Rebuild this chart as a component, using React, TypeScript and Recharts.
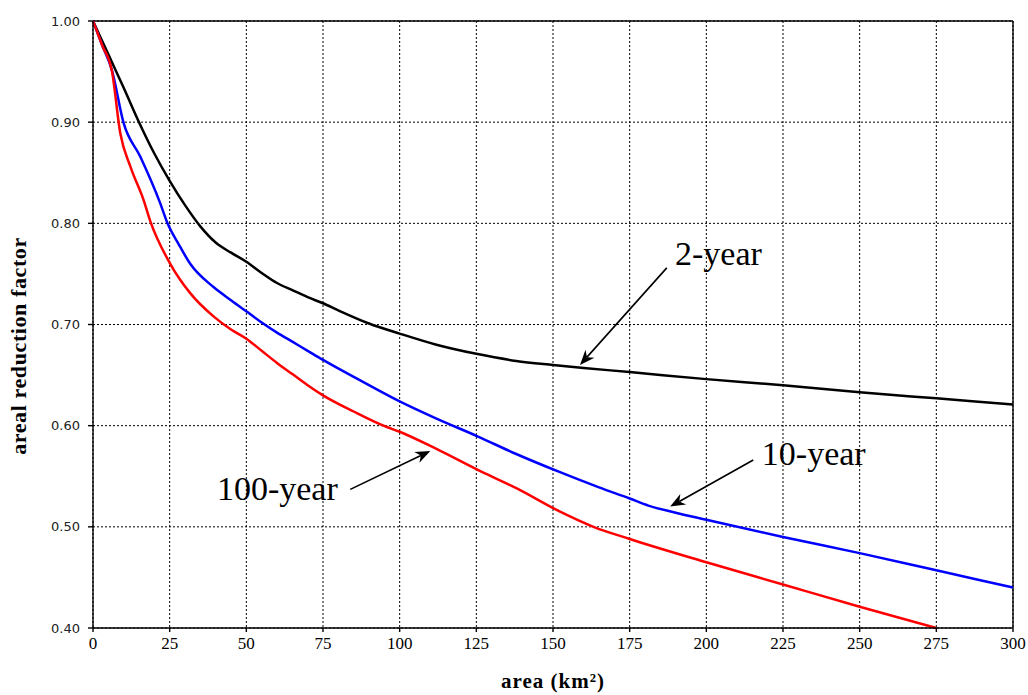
import {
  LineChart,
  Line,
  XAxis,
  YAxis,
  CartesianGrid,
  ReferenceLine,
  ReferenceDot,
} from "recharts";

// axis ticks
const areaTicks = [0, 25, 50, 75, 100, 125, 150, 175, 200, 225, 250, 275, 300];
const arfTicks = [0.4, 0.5, 0.6, 0.7, 0.8, 0.9, 1.0];

// 2-year curve
const area2 = [0, 5, 10, 15, 20, 25, 30, 35, 40, 45, 50, 55, 60, 65, 70, 75, 80, 90, 100, 112, 125, 138, 150, 160, 175, 200, 225, 250, 275, 300];
const arf2 = [1.0, 0.967, 0.934, 0.9, 0.869, 0.842, 0.818, 0.797, 0.781, 0.771, 0.762, 0.751, 0.741, 0.734, 0.727, 0.721, 0.714, 0.701, 0.691, 0.68, 0.671, 0.664, 0.66, 0.657, 0.653, 0.646, 0.64, 0.633, 0.627, 0.621];

// 10-year curve
const area10 = [0, 3, 6.2, 10, 15.4, 21.9, 24.3, 28, 31.7, 39.3, 45, 50, 55, 60, 65, 70, 75, 87, 100, 112, 125, 138, 152.3, 165, 175, 181.1, 190, 200, 225, 250, 275, 300];
const arf10 = [1.0, 0.976, 0.951, 0.899, 0.866, 0.82, 0.8, 0.779, 0.76, 0.737, 0.724, 0.713, 0.702, 0.692, 0.683, 0.674, 0.665, 0.645, 0.624, 0.607, 0.59, 0.572, 0.554, 0.539, 0.528, 0.521, 0.514, 0.507, 0.49, 0.474, 0.457, 0.44];

// 100-year curve
const area100 = [0, 3, 6.2, 8.9, 12.2, 16.5, 18.7, 25, 31.7, 39.3, 45, 50, 55, 60, 65, 70, 75, 85, 94.7, 100, 112, 125, 138.2, 152.3, 163.2, 175, 200, 225, 250, 275];
const arf100 = [1.0, 0.976, 0.95, 0.889, 0.856, 0.823, 0.802, 0.761, 0.731, 0.708, 0.695, 0.686, 0.674, 0.662, 0.651, 0.64, 0.63, 0.614, 0.6, 0.594, 0.577, 0.557, 0.538, 0.515, 0.5, 0.488, 0.465, 0.443, 0.421, 0.4];

// callouts: text anchor and arrow (from -> to), in data units
const calloutNames = ["2-year", "10-year", "100-year"];
const calloutText = [[189.8, 0.759], [218.1, 0.561], [40.4, 0.527]];
const calloutFrom = [[187.1, 0.756], [215.3, 0.566], [83.9, 0.537]];
const calloutTo = [[158.8, 0.66], [188.2, 0.52], [110, 0.575]];

const toRows = (xs: number[], ys: number[]) => xs.map((x, i) => ({ x, y: ys[i] }));
const series = [
  { name: "2-year", data: toRows(area2, arf2), color: "#000000" },
  { name: "10-year", data: toRows(area10, arf10), color: "#0000ff" },
  { name: "100-year", data: toRows(area100, arf100), color: "#ff0000" },
];

function Arrow(props: any) {
  const { x1, y1, x2, y2 } = props;
  const a = Math.atan2(y2 - y1, x2 - x1);
  const len = 15;
  const half = 6;
  const c = Math.cos(a);
  const s = Math.sin(a);
  const bx = x2 - len * c;
  const by = y2 - len * s;
  const nx = x2 - len * 0.7 * c;
  const ny = y2 - len * 0.7 * s;
  const pts = `${x2},${y2} ${bx + half * s},${by - half * c} ${nx},${ny} ${bx - half * s},${by + half * c}`;
  return (
    <g>
      <line x1={x1} y1={y1} x2={nx} y2={ny} stroke="#000" strokeWidth={1.6} />
      <polygon points={pts} fill="#000" />
    </g>
  );
}

export default function App() {
  return (
    <div style={{ position: "absolute", left: 0, top: 0, width: 1028, height: 695, background: "#fff" }}>
      <LineChart
        width={1028}
        height={695}
        margin={{ top: 21, right: 15, bottom: 0, left: 0 }}
      >
        <CartesianGrid stroke="#000" strokeDasharray="2 2" strokeWidth={1} />
        <XAxis
          type="number"
          dataKey="x"
          domain={[0, 300]}
          ticks={areaTicks}
          height={67}
          tickSize={4}
          tickMargin={5}
          stroke="#000"
          strokeWidth={1.4}
          tick={{ fontFamily: "Liberation Serif", fontSize: 17, fill: "#000" }}
          label={{
            value: "area (km²)",
            position: "insideBottom",
            offset: 7,
            style: { fontFamily: "Liberation Serif", fontSize: 21, letterSpacing: 1, fontWeight: "bold", fill: "#000" },
          }}
        />
        <YAxis
          type="number"
          domain={[0.4, 1.0]}
          ticks={arfTicks}
          width={93}
          tickSize={5}
          tickMargin={8}
          stroke="#000"
          strokeWidth={1.4}
          tickFormatter={(v: number) => v.toFixed(2)}
          tick={{ fontFamily: "DejaVu Sans", fontSize: 13, fill: "#222" }}
        />
        <ReferenceLine y={1.0} stroke="#000" strokeWidth={1.4} />
        <ReferenceLine x={300} stroke="#000" strokeWidth={1.4} />
        {series.map((s) => (
          <Line
            key={s.name}
            name={s.name}
            data={s.data}
            dataKey="y"
            type="monotone"
            stroke={s.color}
            strokeWidth={2.5}
            dot={false}
            isAnimationActive={false}
          />
        ))}
        {calloutNames.map((n, i) => (
          <ReferenceLine
            key={"a" + n}
            segment={[
              { x: calloutFrom[i][0], y: calloutFrom[i][1] },
              { x: calloutTo[i][0], y: calloutTo[i][1] },
            ]}
            shape={Arrow}
          />
        ))}
        {calloutNames.map((n, i) => (
          <ReferenceDot
            key={"t" + n}
            x={calloutText[i][0]}
            y={calloutText[i][1]}
            r={0}
            shape={(p: any) => (
              <text
                x={p.cx}
                y={p.cy}
                fontFamily="Liberation Serif"
                fontSize={34}
                fill="#000"
              >
                {n}
              </text>
            )}
          />
        ))}
      </LineChart>
      <div
        style={{
          position: "absolute",
          left: 19,
          top: 346,
          transform: "translate(-50%, -50%) rotate(-90deg)",
          whiteSpace: "nowrap",
          fontFamily: "Liberation Serif",
          fontWeight: "bold",
          fontSize: 22,
          letterSpacing: 0.6,
          lineHeight: 1,
        }}
      >
        areal reduction factor
      </div>
    </div>
  );
}
